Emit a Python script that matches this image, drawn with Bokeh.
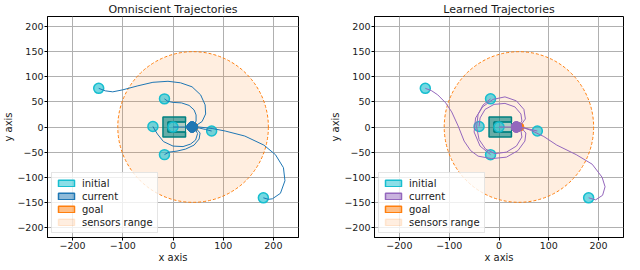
from bokeh.plotting import figure
from bokeh.layouts import row
from bokeh.models import FixedTicker, Legend, LegendItem, Range1d
from bokeh.embed import file_html
from bokeh.resources import INLINE

# ---------------- data ----------------
x_ticks = [-200, -100, 0, 100, 200]
y_ticks = [-200, -150, -100, -50, 0, 50, 100, 150, 200]

init_x = [-148, -17, -40, 0, 77, -17, 180]
init_y = [77, 56, 1, 0, -8, -55, -141]

goal_x = [42]
goal_y = [0]
sensor_radius = 150
sensor_x = [40]
sensor_y = [0]

# obstacle ("C" shape) outline and inner box
obst_x = [-20, 25, 25, -10, -10, 25, 25, -20]
obst_y = [-20, -20, -10, -10, 10, 10, 20, 20]
inner_x = [-10, 25, 25, -10]
inner_y = [-10, -10, 10, 10]

# omniscient trajectories
omni_cur_x = [38, 38, 38, 38, 38, 38, 38]
omni_cur_y = [0, 0, 0, 0, 0, 0, 0]
omni_tx = [
    [-148, -135, -120, -100, -70, -40, -10, 15, 38, 55, 64, 65, 58, 46, 38],
    [-17, -10, 0, 17, 32, 42, 46, 46, 42, 38],
    [-40, -36, -31, -19, 0, 20, 35, 45, 49, 44, 38],
    [0, 20, 38],
    [77, 65, 52, 38],
    [-17, -8, 8, 25, 42, 52, 54, 46, 38],
    [180, 190, 198, 214, 223, 220, 204, 181, 143, 104, 78, 52, 38],
]
omni_ty = [
    [77, 72, 70, 74, 82, 89, 91, 88, 80, 64, 44, 26, 11, 3, 0],
    [56, 51, 49, 48, 43, 34, 24, 12, 4, 0],
    [1, -6, -14, -29, -38, -39, -34, -26, -13, -4, 0],
    [0, 0, 0],
    [-8, -5, -2, 0],
    [-55, -50, -48, -44, -36, -24, -12, -3, 0],
    [-141, -144, -143, -132, -107, -81, -55, -36, -18, -8, -3, 0, 0],
]

# learned trajectories
learn_cur_x = [35, 35, 35, 35, 35, 35, 35]
learn_cur_y = [0, 0, 0, 0, 0, 0, 0]
learn_tx = [
    [-148, -135, -123, -107, -95, -82, -70, -57, -42, -15, 15, 38, 52, 54, 46, 35],
    [-17, -32, -42, -45, -40, -27, -8, 15, 35, 46, 44, 35],
    [-40, -38, -28, -10, 12, 32, 44, 46, 40, 35],
    [0, 18, 35],
    [77, 60, 45, 35],
    [-17, -38, -50, -47, -33, -12, 12, 35, 50, 53, 44, 35],
    [180, 194, 208, 213, 207, 187, 155, 116, 90, 65, 48, 35],
]
learn_ty = [
    [77, 72, 64, 48, 30, 2, -28, -47, -58, -63, -60, -47, -28, -12, -3, 0],
    [56, 44, 25, 0, -25, -44, -53, -50, -38, -20, -6, 0],
    [1, 18, 35, 45, 47, 40, 26, 12, 3, 0],
    [0, 0, 0],
    [-8, -4, -1, 0],
    [-55, -38, -10, 18, 40, 55, 60, 52, 35, 16, 4, 0],
    [-141, -145, -136, -119, -100, -74, -55, -36, -19, -7, -1, 0],
]

CYAN = "#17becf"
ORANGE = "#ff7f0e"
TEAL = "#008080"
FONT = "DejaVu Sans"


def minus(v):
    return str(v).replace("-", "\u2212")


def make_fig(title, tx, ty, cx, cy, color, bl, br):
    p = figure(width=312, height=265, output_backend="svg", toolbar_location=None,
               x_range=Range1d(-250, 250), y_range=Range1d(-220, 220),
               min_border_left=bl, min_border_right=br, min_border_top=0,
               min_border_bottom=0, background_fill_color="white",
               border_fill_color="white")
    p.title.text = title
    p.title.text_font = FONT
    p.title.text_font_size = "11px"
    p.title.text_font_style = "normal"
    p.title.align = "center"
    p.title.text_color = "#1a1a1a"
    p.title.standoff = 1
    p.title.offset = 0
    p.outline_line_color = "black"
    p.outline_line_width = 1
    for ax, ticks in ((p.xaxis[0], x_ticks), (p.yaxis[0], y_ticks)):
        ax.ticker = FixedTicker(ticks=ticks)
        ax.major_label_overrides = {t: minus(t) for t in ticks}
        ax.minor_tick_line_color = None
        ax.major_tick_out = 3
        ax.major_tick_in = 0
        ax.major_tick_line_color = "black"
        ax.axis_line_color = "black"
        ax.major_label_text_font = FONT
        ax.major_label_text_font_size = "9.5px"
        ax.major_label_text_color = "#1a1a1a"
        ax.major_label_standoff = 1
        ax.axis_label_text_font = FONT
        ax.axis_label_text_font_size = "10px"
        ax.axis_label_text_font_style = "normal"
        ax.axis_label_text_color = "#1a1a1a"
        ax.axis_label_standoff = 0
    p.xaxis.axis_label = "x axis"
    p.yaxis.axis_label = "y axis"
    p.grid.grid_line_color = "#b0b0b0"
    p.grid.grid_line_width = 1
    p.xgrid.ticker = FixedTicker(ticks=x_ticks)
    p.ygrid.ticker = FixedTicker(ticks=y_ticks)

    # sensors range
    p.ellipse(x=sensor_x, y=sensor_y, width=2 * sensor_radius, height=2 * sensor_radius,
              fill_color=ORANGE, fill_alpha=0.13, line_color=ORANGE,
              line_width=1, line_dash="3 2")
    # obstacle
    p.patch(obst_x, obst_y, fill_color=TEAL, fill_alpha=0.6, line_color=TEAL, line_width=1.5)
    p.patch(inner_x, inner_y, fill_color=TEAL, fill_alpha=0.3, line_color=TEAL, line_width=1)
    # goal
    p.scatter(goal_x, goal_y, size=8, fill_color=ORANGE, line_color=ORANGE)
    # initial
    p.scatter(init_x, init_y, size=10, fill_color=CYAN, fill_alpha=0.6,
              line_color=CYAN, line_width=1.5)
    # trajectories
    p.multi_line(tx, ty, line_color=color, line_width=1)
    # current
    p.scatter(cx, cy, size=10, fill_color=color, line_color=color)

    # legend swatches (hidden renderers, used only for the legend patches)
    def swatch(fc, fa, lc, la):
        return p.rect(x=goal_x, y=goal_y, width=1, height=1, fill_color=fc, fill_alpha=fa,
                      line_color=lc, line_alpha=la, line_width=1.5, visible=False)
    r_init = swatch(CYAN, 0.5, CYAN, 1.0)
    r_cur = swatch(color, 0.5, color, 1.0)
    r_goal = swatch(ORANGE, 0.5, ORANGE, 1.0)
    r_sens = swatch(ORANGE, 0.13, ORANGE, 0.15)
    legend = Legend(items=[LegendItem(label="initial", renderers=[r_init]),
                           LegendItem(label="current", renderers=[r_cur]),
                           LegendItem(label="goal", renderers=[r_goal]),
                           LegendItem(label="sensors range", renderers=[r_sens])],
                    location="bottom_left", margin=4, padding=4, spacing=1,
                    glyph_width=20, glyph_height=8, label_height=12,
                    label_text_font=FONT, label_text_font_size="10px",
                    label_text_color="#1a1a1a", label_standoff=6,
                    background_fill_color="white", background_fill_alpha=0.8,
                    border_line_color="#cccccc", border_line_width=1,
                    click_policy="none")
    p.add_layout(legend)
    return p


p1 = make_fig("Omniscient Trajectories", omni_tx, omni_ty, omni_cur_x, omni_cur_y,
              "#1f77b4", 0, 14)
p2 = make_fig("Learned Trajectories", learn_tx, learn_ty, learn_cur_x, learn_cur_y,
              "#9467bd", 62, 1)

layout = row(p1, p2, spacing=0)
open("out.html", "w").write(file_html(layout, INLINE))
